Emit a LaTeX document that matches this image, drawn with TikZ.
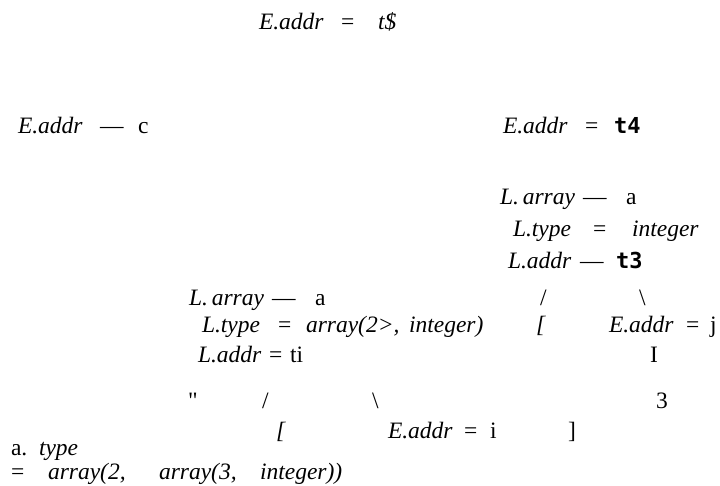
\documentclass[tikz,border=0pt]{standalone}
\usepackage{fontspec}
\setmainfont{Liberation Serif}
\newfontfamily\monob{DejaVu Sans Mono}
\begin{document}
\begin{tikzpicture}[x=1pt,y=-1pt,
  lbl/.style={anchor=base west,inner sep=0pt,outer sep=0pt,font=\fontsize{23.5}{28}\selectfont},
  it/.style={lbl,font=\fontsize{23.5}{28}\selectfont\itshape},
  rm/.style={lbl},
  tb/.style={lbl,font=\fontsize{22}{28}\selectfont\monob\bfseries}]
\useasboundingbox (0,0) rectangle (720,485);
% row A
\node[it] (a1) at (259,29) {E.addr};
\node[rm] (a2) at (341,29) {=};
\node[it] (a3) at (378,29) {t\$};
% row B
\node[it] (b1) at (18,133) {E.addr};
\node[rm] (b2) at (100,133) {—};
\node[rm] (b3) at (138,133) {c};
\node[it] (b4) at (503,133) {E.addr};
\node[rm] (b5) at (585,133) {=};
\node[tb] (b6) at (614,133) {t4};
% row C
\node[it] (c1) at (500,204) {L.\,array};
\node[rm] (c2) at (583,204) {—};
\node[rm] (c3) at (626,204) {a};
% row D
\node[it] (d1) at (513,236) {L.type};
\node[rm] (d2) at (593,236) {=};
\node[it] (d3) at (632,236) {integer};
% row E
\node[it] (e1) at (508,268) {L.addr};
\node[rm] (e2) at (580,268) {—};
\node[tb] (e3) at (616,268) {t3};
% row F
\node[it] (f1) at (189,305) {L.\,array};
\node[rm] (f2) at (272,305) {—};
\node[rm] (f3) at (315,305) {a};
\node[rm] (f4) at (540,305) {/};
\node[rm] (f5) at (639,305) {\textbackslash};
% row G
\node[it] (g1) at (202,332) {L.type};
\node[rm] (g2) at (278,332) {=};
\node[it] (g3) at (306,332) {array(2>,};
\node[it] (g4) at (409,332) {integer)};
\node[it] (g5) at (536,332) {[};
\node[it] (g6) at (609,332) {E.addr};
\node[rm] (g7) at (686,332) {=};
\node[rm] (g8) at (710,332) {j};
% row H
\node[it] (h1) at (198,362) {L.addr};
\node[rm] (h2) at (269,362) {=};
\node[rm] (h3) at (290,362) {ti};
\node[rm] (h4) at (650,362) {I};
% row I
\node[rm] (i1) at (188,408) {\textquotedbl};
\node[rm] (i2) at (262,408) {/};
\node[rm] (i3) at (372,408) {\textbackslash};
\node[rm] (i4) at (656,408) {3};
% row J
\node[it] (j1) at (276,438) {[};
\node[it] (j2) at (388,438) {E.addr};
\node[rm] (j3) at (464,438) {=};
\node[rm] (j4) at (490,438) {i};
\node[rm] (j5) at (568,438) {]};
% row K
\node[rm] (k1) at (11,455) {a.};
\node[it] (k2) at (39,455) {type};
% row L
\node[rm] (l1) at (11,479) {=};
\node[it] (l2) at (48,479) {array(2,};
\node[it] (l3) at (159,479) {array(3,};
\node[it] (l4) at (260,479) {integer))};
\end{tikzpicture}
\end{document}
